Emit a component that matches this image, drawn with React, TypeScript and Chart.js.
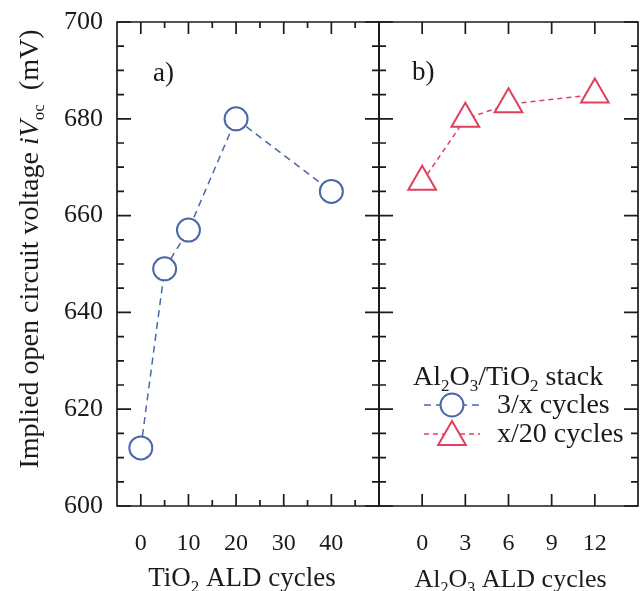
import React, { useEffect, useRef } from 'react';
import { Chart, registerables } from 'chart.js';

Chart.register(...registerables);

// ---- data ----
const tioCycles = [0, 5, 10, 20, 40];
const tioVoc = [612, 649, 657, 680, 665];
const alCycles = [0, 3, 6, 12];
const alVoc = [667, 680, 683, 685];

const seriesLabels = ['3/x cycles', 'x/20 cycles'];

const yTicks = [600, 620, 640, 660, 680, 700];
const yMinorTicks = [605, 610, 615, 625, 630, 635, 645, 650, 655, 665, 670, 675, 685, 690, 695];
const x1Ticks = [0, 10, 20, 30, 40];
const x1MinorTicks = [5, 15, 25, 35, 45];
const x2Ticks = [0, 3, 6, 9, 12];
const x2MinorTicks: number[] = [];

const panelLabels = ['a)', 'b)'];

// ---- styles ----
const SERIF = '"Liberation Serif", "Times New Roman", serif';
const BLUE = '#4a67ab';
const RED = '#e0405e';
const INK = '#1a1a1a';

type Seg = { t: string; sub?: boolean; it?: boolean };

function segFont(s: Seg, size: number) {
  const sz = s.sub ? Math.round(size * 0.62) : size;
  return `${s.it ? 'italic ' : ''}${sz}px ${SERIF}`;
}

function drawRich(ctx: CanvasRenderingContext2D, segs: Seg[], x: number, y: number, size: number, align: 'left' | 'center') {
  let total = 0;
  const widths = segs.map((s) => {
    ctx.font = segFont(s, size);
    const w = ctx.measureText(s.t).width;
    total += w;
    return w;
  });
  let cx = align === 'center' ? x - total / 2 : x;
  ctx.textAlign = 'left';
  ctx.textBaseline = 'alphabetic';
  segs.forEach((s, i) => {
    ctx.font = segFont(s, size);
    ctx.fillText(s.t, cx, s.sub ? y + size * 0.22 : y);
    cx += widths[i];
  });
}

function drawTriangle(ctx: CanvasRenderingContext2D, x: number, y: number, r: number) {
  ctx.beginPath();
  for (let k = 0; k < 3; k++) {
    const ang = (k * 2 * Math.PI) / 3;
    const px = x + Math.sin(ang) * r;
    const py = y - Math.cos(ang) * r;
    if (k === 0) ctx.moveTo(px, py);
    else ctx.lineTo(px, py);
  }
  ctx.closePath();
}

const framePlugin = {
  id: 'frame',
  beforeDatasetsDraw(chart: any) {
    const ctx: CanvasRenderingContext2D = chart.ctx;
    const { top, bottom } = chart.chartArea;
    const y = chart.scales.y;
    const panels = [
      { s: chart.scales.x1, maj: x1Ticks, min: x1MinorTicks },
      { s: chart.scales.x2, maj: x2Ticks, min: x2MinorTicks },
    ];
    ctx.save();
    ctx.strokeStyle = INK;
    ctx.lineWidth = 1.7;
    const MAJ = 12;
    const MIN = 6;
    panels.forEach(({ s, maj, min }) => {
      const L = s.left;
      const R = s.right;
      ctx.beginPath();
      ctx.rect(L, top, R - L, bottom - top);
      ctx.stroke();
      ctx.beginPath();
      maj.forEach((v) => {
        const px = s.getPixelForValue(v);
        ctx.moveTo(px, bottom);
        ctx.lineTo(px, bottom - MAJ);
        ctx.moveTo(px, top);
        ctx.lineTo(px, top + MAJ);
      });
      min.forEach((v) => {
        const px = s.getPixelForValue(v);
        ctx.moveTo(px, bottom);
        ctx.lineTo(px, bottom - MIN);
        ctx.moveTo(px, top);
        ctx.lineTo(px, top + MIN);
      });
      yTicks.forEach((v) => {
        const py = y.getPixelForValue(v);
        ctx.moveTo(L, py);
        ctx.lineTo(L + MAJ + 2, py);
        ctx.moveTo(R, py);
        ctx.lineTo(R - MAJ - 2, py);
      });
      yMinorTicks.forEach((v) => {
        const py = y.getPixelForValue(v);
        ctx.moveTo(L, py);
        ctx.lineTo(L + MIN + 1, py);
        ctx.moveTo(R, py);
        ctx.lineTo(R - MIN - 1, py);
      });
      ctx.stroke();
    });
    ctx.restore();
  },
  afterDraw(chart: any) {
    const ctx: CanvasRenderingContext2D = chart.ctx;
    const { top, bottom } = chart.chartArea;
    const x1 = chart.scales.x1;
    const x2 = chart.scales.x2;
    ctx.save();
    ctx.fillStyle = INK;

    // panel labels
    ctx.font = `27px ${SERIF}`;
    ctx.textBaseline = 'alphabetic';
    ctx.textAlign = 'left';
    ctx.fillText(panelLabels[0], x1.left + 36, top + 59);
    ctx.fillText(panelLabels[1], x2.left + 33, top + 58);

    // axis titles
    drawRich(ctx, [{ t: 'TiO' }, { t: '2', sub: true }, { t: ' ALD cycles' }], (x1.left + x1.right) / 2 - 6, 586, 27, 'center');
    drawRich(ctx, [{ t: 'Al' }, { t: '2', sub: true }, { t: 'O' }, { t: '3', sub: true }, { t: ' ALD cycles' }], (x2.left + x2.right) / 2 + 2, 587, 26, 'center');

    // y title
    ctx.save();
    ctx.translate(38, (top + bottom) / 2 - 15);
    ctx.rotate(-Math.PI / 2);
    drawRich(ctx, [{ t: 'Implied open circuit voltage ' }, { t: 'iV', it: true }, { t: 'oc', sub: true }, { t: '  (mV)' }], 0, 0, 28, 'center');
    ctx.restore();

    // legend
    const lx = x2.left + 34;
    drawRich(ctx, [{ t: 'Al' }, { t: '2', sub: true }, { t: 'O' }, { t: '3', sub: true }, { t: '/TiO' }, { t: '2', sub: true }, { t: ' stack' }], lx, 385, 28, 'left');
    const rows = [
      { color: BLUE, dash: [7, 5], style: 'circle', y: 405, r: 11.5 },
      { color: RED, dash: [5, 4], style: 'triangle', y: 434, r: 16 },
    ];
    rows.forEach((row, i) => {
      const mx = x2.left + 73;
      ctx.save();
      ctx.strokeStyle = row.color;
      ctx.lineWidth = 1.5;
      ctx.setLineDash(row.dash);
      ctx.beginPath();
      ctx.moveTo(mx - 28, row.y);
      ctx.lineTo(mx + 28, row.y);
      ctx.stroke();
      ctx.setLineDash([]);
      ctx.lineWidth = 2;
      ctx.fillStyle = '#ffffff';
      if (row.style === 'circle') {
        ctx.beginPath();
        ctx.arc(mx, row.y, row.r, 0, Math.PI * 2);
      } else {
        drawTriangle(ctx, mx, row.y + 3, row.r);
      }
      ctx.fill();
      ctx.stroke();
      ctx.restore();
      ctx.fillStyle = INK;
      ctx.font = `28px ${SERIF}`;
      ctx.textAlign = 'left';
      ctx.textBaseline = 'middle';
      ctx.fillText(seriesLabels[i], x2.left + 118, row.y + 1);
    });
    ctx.restore();
  },
};

export default function App() {
  const ref = useRef<HTMLCanvasElement | null>(null);
  useEffect(() => {
    if (!ref.current) return;
    const tickFont = { family: SERIF, size: 24 };
    const zeroPad = (s: any) => {
      s.paddingLeft = 0;
      s.paddingRight = 0;
      s.paddingTop = 0;
      s.paddingBottom = 0;
    };
    const chart = new Chart(ref.current, {
      type: 'line',
      data: {
        datasets: [
          {
            label: seriesLabels[0],
            data: tioCycles.map((x, i) => ({ x, y: tioVoc[i] })),
            xAxisID: 'x1',
            yAxisID: 'y',
            borderColor: BLUE,
            borderWidth: 1.5,
            borderDash: [7, 5],
            pointStyle: 'circle',
            pointRadius: 11.5,
            pointBorderWidth: 2,
            pointBorderColor: BLUE,
            pointBackgroundColor: '#ffffff',
            fill: false,
            tension: 0,
            clip: false,
          } as any,
          {
            label: seriesLabels[1],
            data: alCycles.map((x, i) => ({ x, y: alVoc[i] })),
            xAxisID: 'x2',
            yAxisID: 'y',
            borderColor: RED,
            borderWidth: 1.5,
            borderDash: [5, 4],
            pointStyle: 'triangle',
            pointRadius: 16,
            pointBorderWidth: 2,
            pointBorderColor: RED,
            pointBackgroundColor: '#ffffff',
            fill: false,
            tension: 0,
            clip: false,
          } as any,
        ],
      },
      options: {
        animation: false,
        responsive: false,
        devicePixelRatio: 1,
        layout: { autoPadding: false, padding: { left: 0, top: 22, right: 3, bottom: 0 } },
        plugins: { legend: { display: false }, tooltip: { enabled: false } },
        scales: {
          x1: {
            type: 'linear',
            position: 'bottom',
            stack: 'xs',
            stackWeight: 262,
            min: -5,
            max: 50,
            afterBuildTicks: (s: any) => {
              s.ticks = x1Ticks.map((v) => ({ value: v }));
            },
            afterFit: (s: any) => {
              s.height = 85;
              zeroPad(s);
            },
            grid: { display: false, drawTicks: false },
            border: { display: false },
            ticks: { font: tickFont, color: INK, padding: 23, autoSkip: false, maxRotation: 0 },
          },
          x2: {
            type: 'linear',
            position: 'bottom',
            stack: 'xs',
            stackWeight: 259,
            min: -3,
            max: 15,
            afterBuildTicks: (s: any) => {
              s.ticks = x2Ticks.map((v) => ({ value: v }));
            },
            afterFit: (s: any) => {
              s.height = 85;
              zeroPad(s);
            },
            grid: { display: false, drawTicks: false },
            border: { display: false },
            ticks: { font: tickFont, color: INK, padding: 23, autoSkip: false, maxRotation: 0 },
          },
          y: {
            type: 'linear',
            position: 'left',
            min: 600,
            max: 700,
            afterBuildTicks: (s: any) => {
              s.ticks = yTicks.map((v) => ({ value: v }));
            },
            afterFit: (s: any) => {
              s.width = 117;
              zeroPad(s);
            },
            grid: { display: false, drawTicks: false },
            border: { display: false },
            ticks: { font: { family: SERIF, size: 26 }, color: INK, padding: 14, autoSkip: false },
          },
        } as any,
      },
      plugins: [framePlugin],
    });
    return () => chart.destroy();
  }, []);
  return (
    <div style={{ position: 'fixed', left: 0, top: 0, width: 641, height: 591, background: '#fff' }}>
      <canvas ref={ref} width={641} height={591} />
    </div>
  );
}
